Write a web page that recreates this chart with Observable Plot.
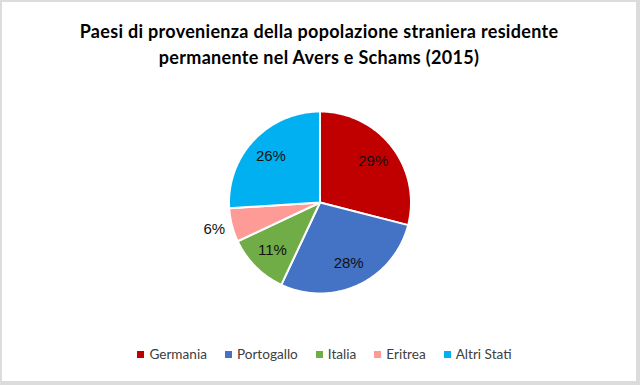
<!DOCTYPE html>
<html>
<head>
<meta charset="utf-8">
<script src="https://cdn.jsdelivr.net/npm/d3@7"></script>
<script src="https://cdn.jsdelivr.net/npm/@observablehq/plot@0.6"></script>
<style>
  html, body { margin: 0; padding: 0; }
  body { width: 640px; height: 385px; background: #dcdcdc; position: relative; overflow: hidden; }
  #card { position: absolute; left: 2px; top: 2px; width: 634px; height: 379px; background: #fff; }
  #title { padding-top: 16px; height: 54px; font-family: Lato, sans-serif; font-weight: 700; font-size: 18px; letter-spacing: 0.3px; line-height: 26px; text-align: center; color: #000; }
  #chart svg { display: block; }
  #legend { display: flex; justify-content: center; margin-top: 10px; padding-left: 29px; }
  .lg-swatches, .lg-swatches-wrap { justify-content: center; font-family: Lato, sans-serif !important; font-size: 13.6px !important; color: #404040; margin: 0 !important; min-height: 20px !important; }
  .lg-swatch { margin-right: 18px !important; }
  .lg-swatch > svg { margin-right: 5px !important; }
</style>
</head>
<body>
<div id="card">
  <div id="title">Paesi di provenienza della popolazione straniera residente<br>permanente nel Avers e Schams (2015)</div>
  <div id="chart"></div>
  <div id="legend"></div>
</div>
<script>
const paesi = ["Germania", "Portogallo", "Italia", "Eritrea", "Altri Stati"];
const quote = [29, 28, 11, 6, 26];
const colori = ["#C00000", "#4472C4", "#70AD47", "#FF9B96", "#00B0F0"];

const arcs = d3.pie().sort(null).value((d) => d.v)(paesi.map((p, i) => ({p, v: quote[i]})));

// polygon vertices for each slice, in unit-circle data space (y up)
const slicePts = [];
for (const a of arcs) {
  slicePts.push({paese: a.data.p, x: 0, y: 0});
  const n = Math.max(2, Math.ceil((a.endAngle - a.startAngle) / (Math.PI / 180)));
  for (let k = 0; k <= n; k++) {
    const t = a.startAngle + (a.endAngle - a.startAngle) * k / n;
    slicePts.push({paese: a.data.p, x: Math.sin(t), y: Math.cos(t)});
  }
  slicePts.push({paese: a.data.p, x: 0, y: 0});
}

const labels = arcs.map((a) => {
  const m = (a.startAngle + a.endAngle) / 2;
  const r = a.data.v < 8 ? 1.2 : 0.74;
  return {x: r * Math.sin(m), y: r * Math.cos(m), text: `${a.data.v}%`};
});

const colorOpts = {domain: paesi, range: colori};

const plot = Plot.plot({
  width: 634,
  height: 262,
  margin: 0,
  x: {domain: [-1, 1], range: [226.5, 408.5], axis: null},
  y: {domain: [-1, 1], range: [221, 39], axis: null},
  color: colorOpts,
  style: {background: "transparent", overflow: "visible"},
  marks: [
    Plot.line(slicePts, {x: "x", y: "y", z: "paese", fill: "paese", stroke: "#fff", strokeWidth: 2, strokeLinejoin: "round"}),
    Plot.text(labels, {x: "x", y: "y", text: "text", fontSize: 15, fill: "#111", fontFamily: "'Liberation Sans', Arial, sans-serif"})
  ]
});
document.getElementById("chart").append(plot);

const legend = Plot.legend({color: colorOpts, legend: "swatches", swatchSize: 7, className: "lg"});
document.getElementById("legend").append(legend);
</script>
</body>
</html>
